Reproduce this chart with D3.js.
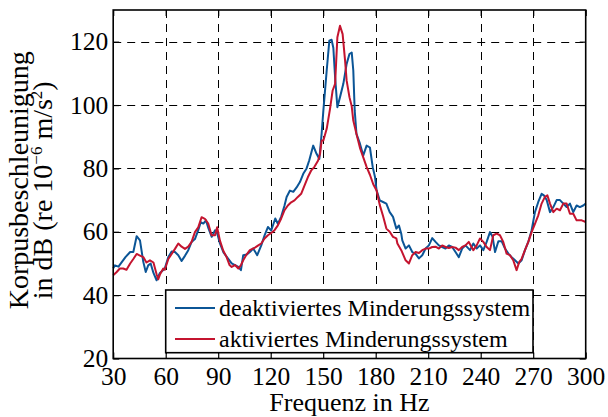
<!DOCTYPE html>
<html>
<head>
<meta charset="utf-8">
<script src="https://cdn.jsdelivr.net/npm/d3@7"></script>
<style>
  body { margin: 0; background: #fff; }
  svg text { font-family: "Liberation Serif", "Times New Roman", serif; fill: #000; }
</style>
</head>
<body>
<svg id="chart"></svg>
<script>
// Korpusbeschleunigung, deaktiviertes Minderungssystem (blau)
let freqOff = [30, 31, 33, 35, 37, 39.7, 41.5, 43.4, 45.3, 47.2, 48.6, 50, 51.4, 53, 54.8, 56.7, 58.6, 59.5,
  61.5, 63.4, 65.3, 67.2, 69.1, 71, 72.9, 74.8, 76.7, 78.6, 80, 81.5, 83, 84.5, 86.3, 88.2, 89.4, 91, 93, 95,
  97.7, 99.6, 101.5, 103, 104.3, 106.2, 108.1, 110, 112.3, 114.6, 116.5, 118.4, 120.3, 122.6, 124.1, 126,
  127.9, 129.1, 131, 132.9, 134.8, 136.7, 138.6, 140.5, 142, 144.3, 146.2, 147.8, 149.1, 150.1, 152, 153.5,
  154.8, 155.8, 156.8, 158.1, 159.6, 161.5, 163.4, 165, 166.3, 167.2, 168, 169, 171, 172.9, 174.8, 176.7,
  178.3, 179.6, 180.5, 182.3, 184.2, 186.1, 188, 189.9, 191.8, 193.3, 194.6, 195.2, 197.1, 199, 200.9,
  202.8, 204.7, 206.6, 208.5, 210.4, 212.3, 214.2, 216.1, 218, 219.9, 221.8, 223.7, 225.6, 227.5, 229.4,
  231.3, 233.9, 235.8, 237.7, 239.6, 241.5, 243.4, 245.3, 246.8, 248.2, 250.1, 252, 253.9, 255.8, 257.7,
  259.6, 261.5, 263.4, 265.3, 267.2, 269.1, 271, 272.9, 274.8, 276.1, 277.7, 279.6, 281.5, 283.4, 285.3,
  287.2, 289.1, 291, 292.9, 294.8, 296.7, 298.6, 300];
let levelOff = [48.5, 49.4, 49, 50.5, 52, 53.6, 53.6, 58.6, 57.3, 50.5, 47.3, 49.4, 50, 47, 44.7, 47, 47.9, 48.5,
  52, 53.8, 53.6, 52.6, 50.8, 52.4, 54.2, 56.8, 57.7, 60.5, 63, 62.6, 63.6, 61, 58.4, 60.5, 59.5, 56.3, 53.5, 52,
  50, 49.5, 48.9, 47.9, 52.6, 52.8, 53.6, 54.7, 52.6, 55.7, 58.9, 61.5, 60.4, 64.2, 62.5, 64.8,
  68.3, 71, 73, 72.6, 74, 75.7, 78.3, 80, 82.5, 87.2, 84.6, 83, 91, 98.3, 110.9, 120.3,
  120.6, 118, 108.8, 99.3, 102.5, 106.7, 113, 116.1, 116.6, 110.9, 98.3, 90.9, 87.8, 84.1, 87.2, 86.6,
  80.4, 77.3, 73.1, 69.9, 69.4, 68.9, 66.2, 64.7, 61, 62, 59.4, 57.3, 54.7, 55.7, 53.6,
  53, 51.6, 52.6, 54.7, 55.7, 58, 56.8, 55.7, 55.2, 54.7, 55.7, 55.2, 53.6, 52, 54.7,
  55.7, 54.2, 56.3, 54.7, 55.7, 54.2, 56.8, 59.9, 58.4, 53.6, 57, 57, 54.7, 53.1, 52,
  51, 50, 51, 54.2, 56.8, 60.5, 66.2, 69.4, 72, 71.5, 70, 66.2, 67.8, 70, 70,
  68.9, 67.8, 68.9, 66.2, 68.3, 67.8, 68.3, 68.9];

// Korpusbeschleunigung, aktiviertes Minderungssystem (rot)
let freqOn = [30, 32, 33.8, 35.7, 37.6, 39.7, 41.5, 43.4, 45.3, 47.2, 49, 51, 53, 54.8, 55.7, 56.7, 58.6, 59.5,
  61.5, 63.4, 65.3, 67.2, 69.1, 71, 72.9, 74.8, 76.7, 78.6, 80.5, 82.4, 84.3, 86.2, 88.2, 89.4, 91, 92.9, 94.8,
  96.5, 97.7, 99.6, 101.5, 103, 104.3, 106.2, 108.1, 111, 112.9, 114.6, 116.5, 118.4, 120.3, 122.2, 124.1,
  126, 127.9, 129.8, 131.7, 133.6, 135.5, 137.4, 139.3, 141.2, 143.2, 145, 147.1, 148.2, 149.1, 150.1, 152,
  153.9, 155.4, 156.8, 158.1, 159.6, 161.1, 162.5, 163.4, 165, 166.3, 167.2, 169, 171, 172.9, 174.8, 176.7,
  178.6, 180.5, 182.3, 184.2, 186.1, 188, 189.9, 191.8, 192.4, 194.6, 197.1, 199, 200.9, 202.8, 204.7,
  206.6, 208.5, 210.4, 212.3, 214.2, 216.1, 218, 219.9, 221.8, 223.7, 225.6, 227.5, 229.4, 231.3, 233.2,
  235.8, 237.7, 239.6, 241.5, 243.4, 245.3, 247.2, 249.1, 251, 252.9, 254.8, 256.7, 258.6, 260.5, 262,
  263.4, 265.3, 267.2, 269.1, 271, 272.9, 274.8, 276.7, 278.1, 279.6, 281.5, 283.4, 285.3, 287.2, 289.1,
  291, 292.9, 294.8, 297.7, 300];
let levelOn = [46.3, 47.3, 48.4, 48.4, 48, 50, 51.4, 53, 52.5, 52, 50.3, 51, 50.3, 46.6, 45, 46.5, 48.4, 48,
  51.4, 53, 54.6, 56.3, 55.3, 54.6, 55.3, 56.8, 59.9, 61.4, 64.6, 64.1, 62.6, 58.9, 58.9, 61.4, 57.2, 54, 52,
  49.5, 48.9, 49.5, 48.4, 49.5, 51, 52.8, 54.2, 55, 55.7, 56.3, 57.9, 58.9, 59.6, 60.5, 62,
  64.2, 66.8, 68.3, 69.3, 69.9, 71, 72, 74.6, 77.2, 79.4, 80.5, 82.5, 84.6, 88.8, 88.8, 92.5,
  98.8, 104.6, 106.7, 121.4, 125, 122.4, 114, 107.7, 102.5, 99.6, 95.1, 90.9, 86.5, 83.5, 80.5, 78,
  75, 73, 68.5, 65, 61, 60, 58.4, 57.9, 56.3, 54.2, 51, 50, 52.6, 53.6, 53.3,
  54.2, 54.7, 54.7, 55.2, 55.3, 54.7, 55.7, 55.2, 54.9, 55.2, 55, 54.2, 55.2, 55.7, 56.8,
  54.2, 55.7, 57.9, 56.8, 55.2, 54.2, 58.9, 59.4, 58.9, 56.8, 53.1, 52.6, 51, 47.9, 50.4,
  51.5, 54.2, 56.8, 59.9, 62.5, 65.2, 68.9, 71, 71.5, 68.9, 66.2, 67.3, 66.8, 68.9, 68.9,
  65.7, 65.7, 63.6, 63.6, 63.1];

let xTicks = [30, 60, 90, 120, 150, 180, 210, 240, 270, 300];
let yTicks = [20, 40, 60, 80, 100, 120];
let seriesNames = ["deaktiviertes Minderungssystem", "aktiviertes Minderungssystem"];
let seriesColors = ["#0b5596", "#c4142f"];

let width = 608;
let height = 417;
let margin = {left: 113.2, right: 22.3, top: 10, bottom: 58.5};

let svg = d3.select("#chart")
    .attr("width", width)
    .attr("height", height);

let x = d3.scaleLinear().domain([30, 300]).range([margin.left, width - margin.right]);
let y = d3.scaleLinear().domain([20, 130]).range([height - margin.bottom, margin.top]);

let plotW = width - margin.left - margin.right;
let plotH = height - margin.top - margin.bottom;

// grid
let grid = svg.append("g")
    .attr("stroke", "#000")
    .attr("stroke-width", 1)
    .attr("stroke-dasharray", "8,6");
grid.selectAll("line.vx")
    .data(xTicks.slice(1, -1))
    .enter().append("line")
    .attr("x1", d => Math.round(x(d)) + 0.5).attr("x2", d => Math.round(x(d)) + 0.5)
    .attr("y1", y(130)).attr("y2", y(20));
grid.selectAll("line.hy")
    .data(yTicks.slice(1))
    .enter().append("line")
    .attr("x1", x(30)).attr("x2", x(300))
    .attr("y1", d => Math.round(y(d)) + 0.5).attr("y2", d => Math.round(y(d)) + 0.5);

// curves
let lineGen = d3.line()
    .x(d => x(d[0]))
    .y(d => y(d[1]));

let series = [
    d3.zip(freqOff, levelOff),
    d3.zip(freqOn, levelOn)
];

svg.append("g")
    .selectAll("path")
    .data(series)
    .enter().append("path")
    .attr("d", lineGen)
    .attr("fill", "none")
    .attr("stroke", (d, i) => seriesColors[i])
    .attr("stroke-width", 2)
    .attr("stroke-linejoin", "round");

// axes (ticks inside, on all four sides)
let tickLen = 6;
svg.append("g")
    .attr("transform", `translate(0,${y(20)})`)
    .call(d3.axisBottom(x).tickValues(xTicks).tickSize(-tickLen).tickPadding(8).tickFormat(d3.format("d")));
svg.append("g")
    .attr("transform", `translate(0,${y(130)})`)
    .call(d3.axisTop(x).tickValues(xTicks).tickSize(-tickLen).tickFormat(""));
svg.append("g")
    .attr("transform", `translate(${x(30)},0)`)
    .call(d3.axisLeft(y).tickValues(yTicks).tickSize(-tickLen).tickPadding(5).tickFormat(d3.format("d")));
svg.append("g")
    .attr("transform", `translate(${x(300)},0)`)
    .call(d3.axisRight(y).tickValues(yTicks).tickSize(-tickLen).tickFormat(""));

svg.selectAll(".domain").remove();
svg.selectAll(".tick line").attr("stroke", "#000").attr("stroke-width", 1.2);
svg.selectAll(".tick text")
    .style("font-family", '"Liberation Serif", serif')
    .style("font-size", "25.5px")
    .attr("fill", "#000");

// frame
svg.append("rect")
    .attr("x", x(30)).attr("y", y(130))
    .attr("width", plotW).attr("height", plotH)
    .attr("fill", "none")
    .attr("stroke", "#000")
    .attr("stroke-width", 1.6);

// legend
let legend = svg.append("g");
legend.append("rect")
    .attr("x", 165.7).attr("y", 290)
    .attr("width", 367.3).attr("height", 62.7)
    .attr("fill", "#fff")
    .attr("stroke", "#000")
    .attr("stroke-width", 1.6);
let legendRows = legend.selectAll("g.row")
    .data(seriesNames)
    .enter().append("g")
    .attr("transform", (d, i) => `translate(0,${308 + i * 31})`);
legendRows.append("line")
    .attr("x1", 175).attr("x2", 215)
    .attr("stroke", (d, i) => seriesColors[i])
    .attr("stroke-width", 2);
legendRows.append("text")
    .attr("x", 219).attr("y", 8)
    .style("font-size", "24px")
    .text(d => d);

// axis titles
svg.append("text")
    .attr("x", (x(30) + x(300)) / 2)
    .attr("y", 411)
    .attr("text-anchor", "middle")
    .style("font-size", "26px")
    .text("Frequenz in Hz");

let yMid = (y(20) + y(130)) / 2;
svg.append("text")
    .attr("transform", `translate(28,${yMid - 4}) rotate(-90)`)
    .attr("text-anchor", "middle")
    .style("font-size", "28px")
    .text("Korpusbeschleunigung");
let line2 = svg.append("text")
    .attr("transform", `translate(52,${yMid + 6}) rotate(-90)`)
    .attr("text-anchor", "middle")
    .style("font-size", "28px");
line2.append("tspan").text("in dB (re 10");
line2.append("tspan").attr("dy", -10).style("font-size", "17px").text("\u22126");
line2.append("tspan").attr("dy", 10).text(" m/s");
line2.append("tspan").attr("dy", -10).style("font-size", "17px").text("2");
line2.append("tspan").attr("dy", 10).text(")");
</script>
</body>
</html>
